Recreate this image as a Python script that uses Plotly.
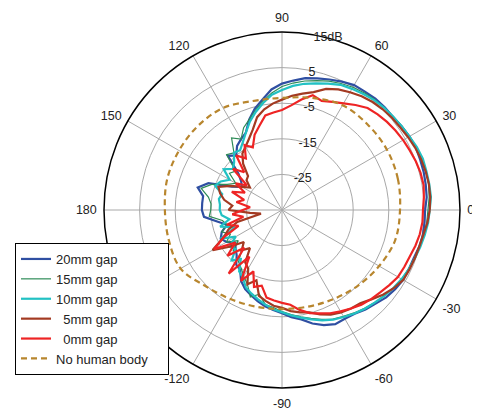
import plotly.graph_objects as go

angles = list(range(0, 360, 5))

gap20 = [5.2, 5.8, 6.0, 6.2, 6.3, 6.5, 6.3, 6.0, 5.7, 5.8, 5.8, 5.6, 5.5, 4.8, 4.0, 3.3, 2.6, 1.5,
         0.5, -1.0, -3.5, -5.5, -8.0, -11.0, -12.0, -13.0, -15.0, -13.5, -19.0, -21.0, -22.0, -19.5, -13.0, -10.5, -12.5, -12.5,
         -12.5, -13.0, -16.5, -19.0, -17.0, -16.0, -17.0, -19.0, -18.0, -17.0, -15.0, -14.5, -12.0, -10.5, -9.5, -8.5, -7.5, -6.8,
         -6.0, -4.8, -3.8, -2.0, -0.6, 0.4, 0.3, 0.6, 1.5, 2.2, 3.2, 3.8, 4.3, 4.3, 4.4, 4.9, 5.2, 5.2]

gap15 = [6.0, 6.5, 6.8, 6.8, 6.8, 6.6, 6.4, 6.1, 5.8, 5.6, 5.5, 5.2, 4.8, 4.2, 3.5, 2.6, 1.8, 0.8,
         -0.3, -2.0, -4.0, -6.0, -8.0, -9.5, -12.0, -10.3, -14.0, -13.0, -18.0, -17.0, -20.0, -18.0, -14.0, -11.5, -14.0, -15.0,
         -15.0, -14.5, -18.0, -19.0, -17.0, -19.0, -17.0, -20.0, -17.0, -19.0, -16.0, -15.0, -13.5, -12.0, -9.0, -10.5, -8.0, -7.5,
         -6.5, -5.5, -4.5, -3.5, -2.3, -1.2, -0.5, 0.3, 1.0, 1.8, 2.5, 3.2, 3.8, 4.2, 4.6, 5.0, 5.5, 5.8]

gap10 = [6.5, 7.0, 7.0, 7.0, 7.1, 6.8, 6.3, 6.0, 5.8, 5.6, 5.3, 4.8, 4.3, 3.8, 2.8, 1.8, 1.0, 0.0,
         -1.3, -2.5, -4.5, -6.5, -8.6, -11.0, -13.0, -14.5, -14.0, -16.0, -17.0, -15.0, -18.0, -16.0, -15.0, -17.6, -17.0, -17.5,
         -17.5, -18.0, -20.0, -17.0, -21.0, -16.0, -20.0, -17.0, -18.0, -15.0, -17.0, -14.0, -13.0, -11.0, -10.0, -9.0, -8.0, -7.0,
         -6.3, -5.3, -4.3, -3.2, -2.0, -1.0, -0.3, 0.5, 1.2, 1.8, 2.5, 3.2, 3.8, 4.3, 4.7, 5.2, 5.7, 6.2]

gap5 = [6.5, 6.8, 6.9, 6.8, 6.6, 6.3, 5.9, 5.5, 5.3, 5.0, 4.6, 4.0, 3.2, 2.4, 1.2, -0.7, -1.8, -2.8,
        -4.0, -5.0, -6.3, -8.0, -11.0, -13.0, -14.5, -15.6, -18.0, -21.5, -22.0, -24.0, -22.0, -19.0, -16.0, -17.0, -18.5, -21.0,
        -20.0, -26.0, -29.0, -22.0, -19.0, -17.0, -12.5, -17.0, -21.0, -19.0, -21.0, -17.0, -16.0, -12.0, -14.0, -10.0, -9.0, -8.0,
        -7.5, -6.5, -5.8, -5.2, -3.8, -2.6, -1.8, -1.2, -0.8, 0.5, 2.0, 3.3, 4.3, 4.5, 4.7, 4.9, 5.3, 6.0]

gap0 = [4.6, 5.0, 5.4, 5.3, 5.0, 4.6, 4.3, 3.9, 3.5, 3.0, 2.4, 1.0, -0.4, -1.5, -2.4, -1.6, -3.5, -5.5,
        -6.9, -7.5, -8.0, -10.5, -12.5, -15.6, -14.0, -17.3, -15.0, -20.0, -17.0, -23.0, -20.0, -23.5, -20.0, -24.0, -22.0, -26.0,
        -24.0, -21.0, -24.0, -19.0, -22.0, -17.0, -13.0, -19.0, -15.0, -20.0, -11.7, -19.0, -12.0, -16.0, -12.0, -13.0, -10.0, -9.5,
        -8.9, -8.3, -6.5, -5.0, -4.1, -3.0, -2.1, -1.2, -0.3, 0.4, 1.0, 1.8, 2.6, 2.9, 3.2, 3.8, 4.3, 4.6]

no_body_angles = list(range(0, 360, 15))
no_body = [-1.85, -1.3, -1.0, -1.0, -1.0, -2.4, -3.5, -3.3, -1.9, -1.6, -1.6, -1.6,
           -2.1, -2.1, -2.1, -4.7, -6.1, -6.9, -7.2, -6.9, -6.1, -4.9, -3.5, -2.1]

names = ["20mm gap", "15mm gap", "10mm gap", "\u00a0\u00a05mm gap", "\u00a0\u00a00mm gap",
         "No human body\u00a0\u00a0\u00a0\u00a0"]
series = [gap20, gap15, gap10, gap5, gap0]
colors = ["#2f4fa2", "#2e8b57", "#22c1c3", "#a33a22", "#ee2424"]
widths = [2.2, 1.2, 2.2, 2.2, 2.2]

tick_vals = list(range(0, 360, 30))
tick_text = ["0", "30", "60", "90", "120", "150", "180", "-150", "-120", "-90", "-60", "-30"]
r_ticks = [-25, -15, -5, 5, 15]
r_text = ["-25", "-15", "-5", "5", "15dB"]

fig = go.Figure()
for nm, vals, c, w in zip(names, series, colors, widths):
    fig.add_trace(go.Scatterpolar(r=vals + vals[:1], theta=angles + angles[:1], mode="lines",
                                  name=nm, line=dict(color=c, width=w)))
fig.add_trace(go.Scatterpolar(r=no_body + no_body[:1], theta=no_body_angles + no_body_angles[:1],
                              mode="lines", name=names[5], line_shape="spline",
                              line=dict(color="#b8862e", width=2.2, dash="6px,4px")))

OFF = 8  # page body margin
fig.update_layout(
    width=480, height=416,
    margin=dict(l=0, r=0, t=0, b=0),
    paper_bgcolor="white",
    font=dict(family="Liberation Sans, Arial, sans-serif", size=12, color="#222"),
    polar=dict(
        domain=dict(x=[(104 - OFF) / 480, (460 - OFF) / 480],
                    y=[1 - (388 - OFF) / 416, 1 - (32 - OFF) / 416]),
        bgcolor="white",
        radialaxis=dict(range=[-35, 15], tickvals=r_ticks, ticktext=r_text, angle=82,
                        tickangle=82, side="clockwise",
                        showline=False, ticks="", gridcolor="#a8a8a8", gridwidth=1,
                        tickfont=dict(size=12.5)),
        angularaxis=dict(direction="counterclockwise", rotation=0, tickvals=tick_vals,
                         ticktext=tick_text, showline=True, linecolor="black", linewidth=1.5,
                         gridcolor="#a8a8a8", gridwidth=1, ticks="outside", ticklen=4,
                         tickcolor="rgba(0,0,0,0)", tickfont=dict(size=12.5)),
    ),
    legend=dict(x=(15 - OFF) / 480, y=1 - (243 - OFF) / 416, xanchor="left", yanchor="top",
                bordercolor="black", borderwidth=1, bgcolor="white",
                font=dict(size=13), itemwidth=30, tracegroupgap=0),
)

fig.write_html("out.html")
